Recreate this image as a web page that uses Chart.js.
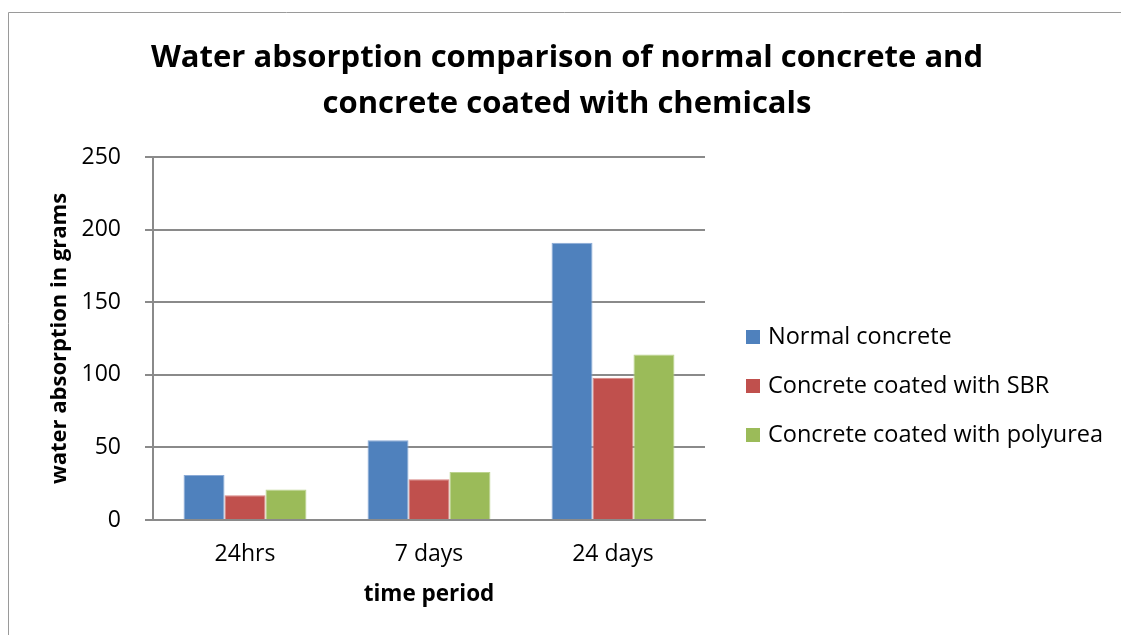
<!DOCTYPE html>
<html>
<head>
<meta charset="utf-8">
<title>Water absorption comparison</title>
<script src="https://cdn.jsdelivr.net/npm/chart.js@4.4.1/dist/chart.umd.min.js"></script>
<style>
  html, body { margin: 0; padding: 0; background: #fff; }
  #wrap { width: 1121px; height: 635px; }
</style>
</head>
<body>
<div id="wrap"><canvas id="chart" width="1121" height="635"></canvas></div>
<script>
// values
const categories = ['24hrs', '7 days', '24 days'];
const seriesNames = ['Normal concrete', 'Concrete coated with SBR', 'Concrete coated with polyurea'];
const normalConcrete = [31, 55, 191];
const sbrCoated = [17, 28, 98];
const polyureaCoated = [21, 33, 114];
const yTicks = [0, 50, 100, 150, 200, 250];
const titleLines = ['Water absorption comparison of normal concrete and', 'concrete coated with chemicals'];

const fills = ['#4F81BD', '#C0504D', '#9BBB59'];
const edges = ['#8aaad6', '#d68583', '#bcd38e'];
const gridGrey = '#8a8a8a';
const fontFamily = '"Open Sans", Lato, sans-serif';

// frame around the whole chart object + the two-line title
const framePlugin = {
  id: 'frame',
  beforeDraw(chart) {
    const ctx = chart.ctx;
    ctx.save();
    ctx.fillStyle = '#fff';
    ctx.fillRect(0, 0, chart.width, chart.height);
    ctx.strokeStyle = '#9a9a9a';
    ctx.lineWidth = 1;
    ctx.beginPath();
    ctx.moveTo(8.5, chart.height);
    ctx.lineTo(8.5, 12.5);
    ctx.lineTo(chart.width, 12.5);
    ctx.stroke();

    ctx.fillStyle = '#000';
    ctx.font = 'bold 31px ' + fontFamily;
    ctx.textAlign = 'center';
    ctx.textBaseline = 'alphabetic';
    ctx.fillText(titleLines[0], 567, 67);
    ctx.fillText(titleLines[1], 567, 113);
    ctx.restore();
  }
};

// legend to the right of the plot, Excel style
const sideLegend = {
  id: 'sideLegend',
  afterDraw(chart) {
    const ctx = chart.ctx;
    ctx.save();
    ctx.font = '23.5px ' + fontFamily;
    ctx.textBaseline = 'middle';
    ctx.textAlign = 'left';
    chart.data.datasets.forEach((ds, i) => {
      const cy = 337 + i * 49;
      ctx.fillStyle = ds.backgroundColor;
      ctx.fillRect(746, cy - 7, 14, 14);
      ctx.fillStyle = '#000';
      ctx.fillText(ds.label, 768, cy);
    });
    ctx.restore();
  }
};

const ctx = document.getElementById('chart').getContext('2d');
new Chart(ctx, {
  type: 'bar',
  data: {
    labels: categories,
    datasets: [
      { label: seriesNames[0], data: normalConcrete, backgroundColor: fills[0], borderColor: edges[0] },
      { label: seriesNames[1], data: sbrCoated, backgroundColor: fills[1], borderColor: edges[1] },
      { label: seriesNames[2], data: polyureaCoated, backgroundColor: fills[2], borderColor: edges[2] }
    ]
  },
  options: {
    responsive: false,
    animation: false,
    devicePixelRatio: 1,
    layout: { padding: { left: 14, right: 416, top: 157, bottom: 0 } },
    datasets: {
      bar: { categoryPercentage: 0.668, barPercentage: 1, borderWidth: 1, borderSkipped: 'bottom' }
    },
    plugins: {
      legend: { display: false },
      tooltip: { enabled: false },
      title: { display: false }
    },
    scales: {
      x: {
        grid: { display: false, drawTicks: false },
        border: { display: true, color: gridGrey, width: 2 },
        ticks: { color: '#000', font: { family: fontFamily, size: 23 }, padding: 21 },
        title: {
          display: true,
          text: 'time period',
          color: '#000',
          font: { family: fontFamily, size: 22.5, weight: 'bold' },
          padding: { top: 0, bottom: 27 }
        },
        afterFit(scale) { scale.height = 115; }
      },
      y: {
        min: 0,
        max: 250,
        afterBuildTicks(scale) { scale.ticks = yTicks.map(v => ({ value: v })); },
        grid: { color: gridGrey, lineWidth: 2, tickLength: 8 },
        border: { display: true, color: gridGrey, width: 2 },
        ticks: { color: '#000', font: { family: fontFamily, size: 23 }, padding: 24 },
        title: {
          display: true,
          text: 'water absorption in grams',
          color: '#000',
          font: { family: fontFamily, size: 22, weight: 'bold' },
          padding: { top: 33, bottom: 0 }
        },
        afterFit(scale) { scale.width = 139; }
      }
    }
  },
  plugins: [framePlugin, sideLegend]
});
</script>
</body>
</html>
